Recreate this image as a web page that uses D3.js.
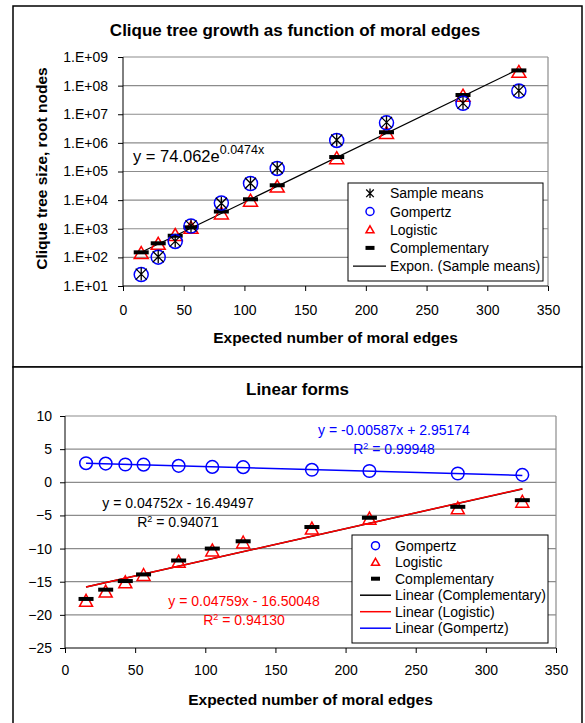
<!DOCTYPE html>
<html>
<head>
<meta charset="utf-8">
<script src="https://cdn.jsdelivr.net/npm/d3@7"></script>
<style>
  body { margin: 0; background: #fff; }
  svg { font-family: "Liberation Sans", Arial, sans-serif; }
  .axis path, .axis line { stroke: #000; }
  .axis text { font-size: 14px; fill: #000; }
  .grid { stroke: #8c8c8c; stroke-width: 1.2; }
  .title { font-size: 17px; font-weight: bold; }
  .axis-label { font-size: 15.5px; font-weight: bold; }
  .legend-text { font-size: 14px; }
  .eq { font-size: 14px; }
</style>
</head>
<body>
<div id="wrapper"></div>
<script>
// data
const edges = [15, 29, 43, 56, 81, 105, 127, 176, 217, 280, 326]

// top chart: clique tree size, root nodes (log scale)
const sampleMeans = [26, 105, 370, 1260, 7800, 39000, 132000, 1.26e6, 5.2e6, 2.45e7, 6.7e7]
const gompertzSize = [25, 102, 360, 1250, 7900, 38000, 128000, 1.22e6, 5.0e6, 2.4e7, 6.5e7]
const logisticSize = [140, 295, 600, 1070, 3400, 9500, 29500, 2.9e5, 2.2e6, 4.4e7, 3.0e8]
const complementarySize = [150, 310, 570, 1120, 4000, 10700, 33000, 3.2e5, 2.35e6, 4.7e7, 3.4e8]
const expA = 74.062
const expB = 0.0474
const topYTicks = [1e1, 1e2, 1e3, 1e4, 1e5, 1e6, 1e7, 1e8, 1e9]
const xTicks = [0, 50, 100, 150, 200, 250, 300, 350]

// bottom chart: linear forms
const gompertzLin = [2.88, 2.82, 2.68, 2.66, 2.48, 2.32, 2.28, 1.88, 1.70, 1.32, 1.12]
const logisticLin = [-17.9, -16.5, -15.1, -14.0, -12.0, -10.3, -9.1, -7.0, -5.5, -3.95, -2.95]
const complementaryLin = [-17.6, -16.2, -14.9, -13.9, -11.8, -10.0, -8.9, -6.75, -5.35, -3.7, -2.7]
const trendNames = ["Linear (Complementary)", "Linear (Logistic)", "Linear (Gompertz)"]
const trendColors = ["#000000", "#ff0000", "#0000ff"]
const trendSlopes = [0.04752, 0.04759, -0.00587]
const trendIntercepts = [-16.49497, -16.50048, 2.95174]
const trendR2 = ["0.94071", "0.94130", "0.99948"]
const botYTicks = [-25, -20, -15, -10, -5, 0, 5, 10]

const dimensions = {
  width: 585,
  height: 723,
  top: { box: [13, 6, 569, 361], plot: { left: 123, right: 548, top: 57, bottom: 286 } },
  bot: { box: [13, 367, 569, 380], plot: { left: 65, right: 556, top: 416, bottom: 648 } },
}

const svg = d3.select("#wrapper")
  .append("svg")
  .attr("width", dimensions.width)
  .attr("height", dimensions.height)

// marker shapes
function star(g, x, y, s) {
  g.append("path")
    .attr("d", `M${x - s},${y - s}L${x + s},${y + s}M${x - s},${y + s}L${x + s},${y - s}M${x},${y - s - 1}L${x},${y + s + 1}`)
    .attr("stroke", "#000").attr("stroke-width", 1.3).attr("fill", "none")
}
function circle(g, x, y, r) {
  g.append("circle").attr("cx", x).attr("cy", y).attr("r", r)
    .attr("fill", "none").attr("stroke", "#0000ff").attr("stroke-width", 1.5)
}
function triangle(g, x, y, w, h) {
  g.append("path")
    .attr("d", `M${x},${y - h * 0.55}L${x + w / 2},${y + h * 0.45}L${x - w / 2},${y + h * 0.45}Z`)
    .attr("fill", "none").attr("stroke", "#ff0000").attr("stroke-width", 1.5)
}
function bar(g, x, y, w, h) {
  g.append("rect").attr("x", x - w / 2).attr("y", y - h / 2).attr("width", w).attr("height", h)
    .attr("fill", "#000")
}

// outer boxes
for (const key of ["top", "bot"]) {
  const b = dimensions[key].box
  svg.append("rect").attr("x", b[0]).attr("y", b[1]).attr("width", b[2]).attr("height", b[3])
    .attr("fill", "#fff").attr("stroke", "#000").attr("stroke-width", 1.5)
}

// ---------- top chart ----------
const tp = dimensions.top.plot
const xTop = d3.scaleLinear().domain([0, 350]).range([tp.left, tp.right])
const yTop = d3.scaleLog().domain([1e1, 1e9]).range([tp.bottom, tp.top])

const topChart = svg.append("g")

topChart.selectAll(".gridTop")
  .data(topYTicks.slice(1))
  .join("line")
  .attr("class", "grid")
  .attr("x1", tp.left).attr("x2", tp.right)
  .attr("y1", d => yTop(d)).attr("y2", d => yTop(d))
topChart.append("line").attr("class", "grid")
  .attr("x1", tp.right).attr("x2", tp.right).attr("y1", tp.top).attr("y2", tp.bottom)

topChart.append("g")
  .attr("class", "axis")
  .attr("transform", `translate(${tp.left},0)`)
  .call(d3.axisLeft(yTop).tickValues(topYTicks).tickSize(5).tickPadding(10)
    .tickFormat(d => "1.E+" + String(Math.round(Math.log10(d))).padStart(2, "0")))
  .call(g => g.select(".domain").attr("d", `M0,${tp.top}V${tp.bottom}`))

topChart.append("g")
  .attr("class", "axis")
  .attr("transform", `translate(0,${tp.bottom})`)
  .call(d3.axisBottom(xTop).tickValues(xTicks).tickSize(5).tickPadding(14))
  .call(g => g.select(".domain").attr("d", `M${tp.left},0H${tp.right}`))

// exponential trend line of sample means
const expLine = d3.line().x(d => xTop(d)).y(d => yTop(expA * Math.exp(expB * d)))
topChart.append("path")
  .datum(d3.extent(edges))
  .attr("d", expLine)
  .attr("fill", "none").attr("stroke", "#000").attr("stroke-width", 1.2)

const topMarks = topChart.append("g")
edges.forEach((e, i) => {
  triangle(topMarks, xTop(e), yTop(logisticSize[i]), 14, 12)
  bar(topMarks, xTop(e), yTop(complementarySize[i]), 15, 4)
  circle(topMarks, xTop(e), yTop(gompertzSize[i]), 7)
  star(topMarks, xTop(e), yTop(sampleMeans[i]), 5.5)
})

const eqTop = topChart.append("text").attr("x", 133).attr("y", 162).style("font-size", "16.5px")
eqTop.append("tspan").text("y = " + expA.toFixed(3) + "e")
eqTop.append("tspan").attr("dy", -8).style("font-size", "12.5px").text(expB + "x")

topChart.append("text").attr("class", "title")
  .attr("x", 295).attr("y", 36).attr("text-anchor", "middle")
  .text("Clique tree growth as function of moral edges")
topChart.append("text").attr("class", "axis-label")
  .attr("x", (tp.left + tp.right) / 2).attr("y", 343).attr("text-anchor", "middle")
  .text("Expected number of moral edges")
topChart.append("text").attr("class", "axis-label")
  .attr("transform", "translate(47,168.5) rotate(-90)").attr("text-anchor", "middle")
  .text("Clique tree size, root nodes")

// top legend
const legTop = topChart.append("g")
legTop.append("rect").attr("x", 348).attr("y", 183).attr("width", 195).attr("height", 98)
  .attr("fill", "#fff").attr("stroke", "#000").attr("stroke-width", 1)
const legTopNames = ["Sample means", "Gompertz", "Logistic", "Complementary", "Expon. (Sample means)"]
legTopNames.forEach((name, i) => {
  const y = 193.3 + i * 18.2
  if (i === 0) star(legTop, 370, y, 3.8)
  if (i === 1) circle(legTop, 370, y, 4)
  if (i === 2) triangle(legTop, 370, y, 8, 7)
  if (i === 3) bar(legTop, 370, y, 9, 4)
  if (i === 4) legTop.append("line").attr("x1", 353).attr("x2", 386).attr("y1", y).attr("y2", y)
    .attr("stroke", "#000").attr("stroke-width", 1.2)
  legTop.append("text").attr("class", "legend-text").attr("x", 390).attr("y", y).attr("dy", "0.36em").text(name)
})

// ---------- bottom chart ----------
const bp = dimensions.bot.plot
const xBot = d3.scaleLinear().domain([0, 350]).range([bp.left, bp.right])
const yBot = d3.scaleLinear().domain([-25, 10]).range([bp.bottom, bp.top])

const botChart = svg.append("g")

botChart.selectAll(".gridBot")
  .data(botYTicks.slice(1))
  .join("line")
  .attr("class", "grid")
  .attr("x1", bp.left).attr("x2", bp.right)
  .attr("y1", d => yBot(d)).attr("y2", d => yBot(d))
botChart.append("line").attr("class", "grid")
  .attr("x1", bp.right).attr("x2", bp.right).attr("y1", bp.top).attr("y2", bp.bottom)

botChart.append("g")
  .attr("class", "axis")
  .attr("transform", `translate(${bp.left},0)`)
  .call(d3.axisLeft(yBot).tickValues(botYTicks).tickSize(5).tickPadding(8))
  .call(g => g.select(".domain").attr("d", `M0,${bp.top}V${bp.bottom}`))

botChart.append("g")
  .attr("class", "axis")
  .attr("transform", `translate(0,${bp.bottom})`)
  .call(d3.axisBottom(xBot).tickValues(xTicks).tickSize(5).tickPadding(12))
  .call(g => g.select(".domain").attr("d", `M${bp.left},0H${bp.right}`))

// linear trend lines
trendNames.forEach((name, i) => {
  const line = d3.line().x(d => xBot(d)).y(d => yBot(trendSlopes[i] * d + trendIntercepts[i]))
  botChart.append("path")
    .datum(d3.extent(edges))
    .attr("d", line)
    .attr("fill", "none").attr("stroke", trendColors[i]).attr("stroke-width", 1.5)
})

const botMarks = botChart.append("g")
edges.forEach((e, i) => {
  circle(botMarks, xBot(e), yBot(gompertzLin[i]), 6.3)
  triangle(botMarks, xBot(e), yBot(logisticLin[i]), 13, 12)
  bar(botMarks, xBot(e), yBot(complementaryLin[i]), 15, 4)
})

// equations
const eqPos = [[178, 508, 527], [244, 606, 625], [394, 435, 454]]
trendNames.forEach((name, i) => {
  const b = trendIntercepts[i]
  const txt = "y = " + trendSlopes[i].toFixed(5) + "x " + (b < 0 ? "- " : "+ ") + Math.abs(b).toFixed(5)
  botChart.append("text").attr("class", "eq").attr("fill", trendColors[i])
    .attr("x", eqPos[i][0]).attr("y", eqPos[i][1]).attr("text-anchor", "middle").text(txt)
  const r = botChart.append("text").attr("class", "eq").attr("fill", trendColors[i])
    .attr("x", eqPos[i][0]).attr("y", eqPos[i][2]).attr("text-anchor", "middle")
  r.append("tspan").text("R")
  r.append("tspan").attr("dy", -5).style("font-size", "9px").text("2")
  r.append("tspan").attr("dy", 5).text(" = " + trendR2[i])
})

botChart.append("text").attr("class", "title")
  .attr("x", 297.5).attr("y", 395).attr("text-anchor", "middle")
  .text("Linear forms")
botChart.append("text").attr("class", "axis-label")
  .attr("x", (bp.left + bp.right) / 2).attr("y", 705).attr("text-anchor", "middle")
  .text("Expected number of moral edges")

// bottom legend
const legBot = botChart.append("g")
legBot.append("rect").attr("x", 352).attr("y", 535).attr("width", 196).attr("height", 108)
  .attr("fill", "#fff").attr("stroke", "#000").attr("stroke-width", 1)
const legBotNames = ["Gompertz", "Logistic", "Complementary"].concat(trendNames)
legBotNames.forEach((name, i) => {
  const y = 545.7 + i * 16.5
  if (i === 0) circle(legBot, 375.5, y, 4)
  if (i === 1) triangle(legBot, 375.5, y, 8, 7)
  if (i === 2) bar(legBot, 375.5, y, 9, 4)
  if (i >= 3) legBot.append("line").attr("x1", 360).attr("x2", 391).attr("y1", y).attr("y2", y)
    .attr("stroke", trendColors[i - 3]).attr("stroke-width", 1.5)
  legBot.append("text").attr("class", "legend-text").attr("x", 395).attr("y", y).attr("dy", "0.36em").text(name)
})
</script>
</body>
</html>
